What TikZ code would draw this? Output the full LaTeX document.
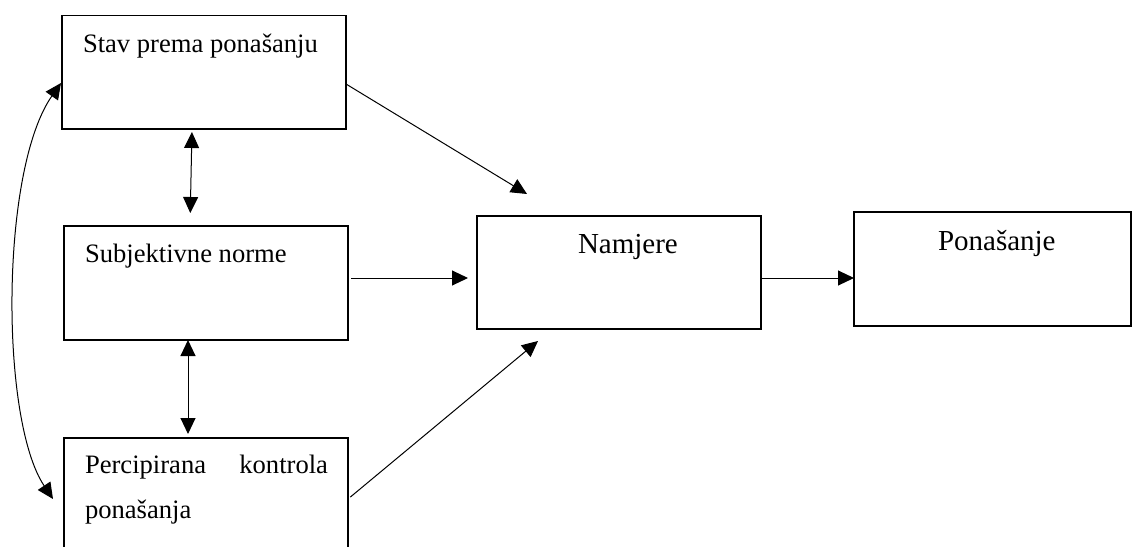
\documentclass[tikz,border=0pt]{standalone}
\usepackage{fontspec}
\setmainfont{Liberation Serif}
\usetikzlibrary{arrows.meta,calc}
\begin{document}
\begin{tikzpicture}[x=1pt,y=-1pt,
  box/.style={draw=black, line width=1.6pt, rectangle, inner sep=0pt, outer sep=0pt, minimum width=284pt, minimum height=114pt},
  lbl/.style={inner sep=0pt, outer sep=0pt, font=\fontsize{26.6}{45}\selectfont, anchor=base west},
  big/.style={inner sep=0pt, outer sep=0pt, font=\fontsize{29}{35}\selectfont, anchor=base west},
  tip/.tip={Triangle[length=16pt,width=15pt]},
  arr/.style={line width=1pt, -tip},
  darr/.style={line width=1pt, tip-tip},
]
\useasboundingbox (0,0) rectangle (1132,546);
\begin{scope}
\clip (0,0) rectangle (1132,546);
% boxes
\node[box, minimum height=113.5pt] (b1) at (204,72.25) {};
\node[box] (b2) at (206,283) {};
\node[box] (b3) at (206,495) {};
\node[box, minimum height=113pt] (b4) at (619,272.5) {};
\node[box, minimum width=277pt] (b5) at (992.5,269) {};
% texts
\node[lbl] (t1) at (83,52) {Stav prema ponašanju};
\node[lbl] (t2) at (85,262) {Subjektivne norme};
\node[lbl, anchor=north west, text width=243pt, align=justify] (t3) at (85,455) {Percipirana kontrola\linebreak ponašanja};
\node[big] (t4) at (578,253) {Namjere};
\node[big] (t5) at (938,250) {Ponašanje};
% free ends
\coordinate (e1) at (527,194);
\coordinate (e3) at (538,341);
% connectors
\draw[arr] (b1.east |- 0,84) -- (e1);
\draw[arr, shorten <=3pt, shorten >=9pt] (b2.east |- 0,278) -- (b4.west |- 0,278);
\draw[arr, shorten <=3pt] (b3.east |- 0,499) -- (e3);
\draw[arr] (b4.east |- 0,278) -- (b5.west |- 0,278);
\draw[darr, shorten <=3pt, shorten >=13pt] (b1.south -| 192,0) -- (b2.north -| 190,0);
\draw[darr, shorten >=4pt] (b2.south -| 188,0) -- (b3.north -| 188,0);
\draw[darr] ($(b1.west |- 0,83)+(-1,0)$) .. controls (0,170) and (0,420) .. ($(b3.west |- 0,499)+(-11,0)$);
\end{scope}
\end{tikzpicture}
\end{document}
